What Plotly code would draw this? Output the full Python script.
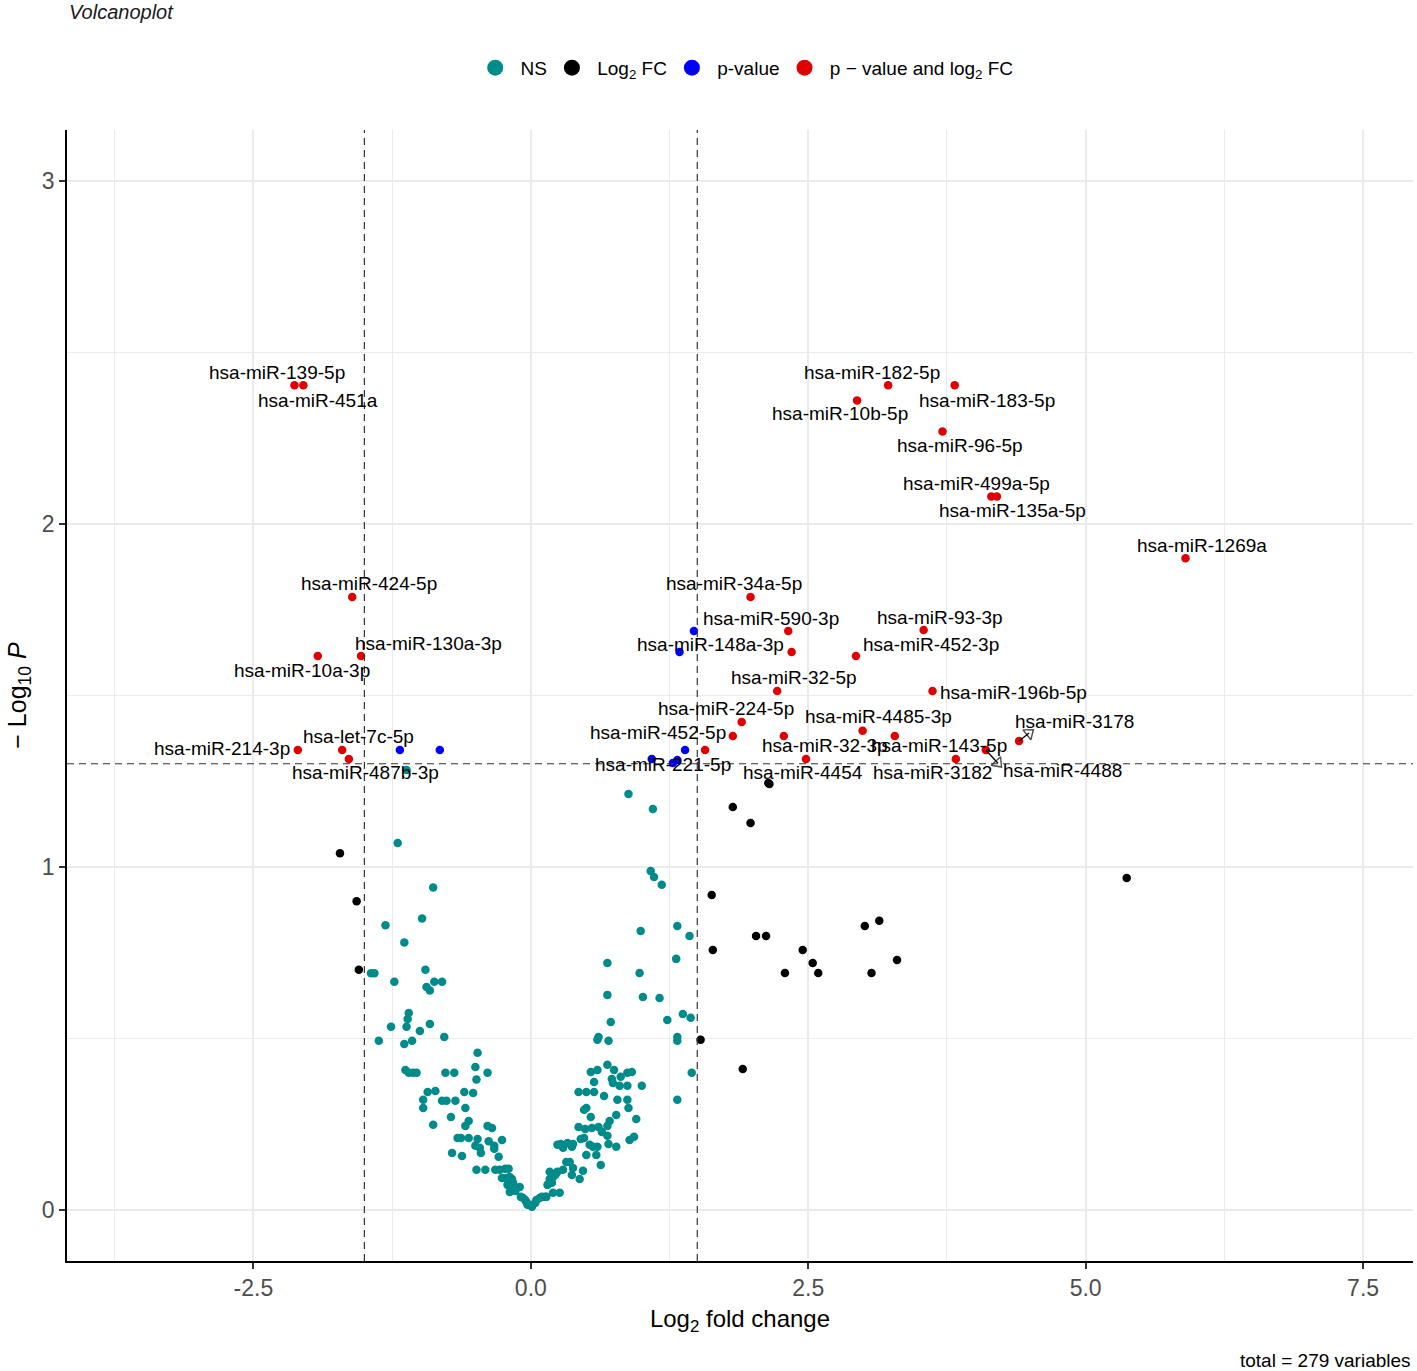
import plotly.graph_objects as go

# ---- data ----
# NS (grey-teal)
ns_x = [-1.12, -1.20, -0.88, -0.98, -1.31, -1.14, -1.44, -1.41, -0.95, -1.23,
        -0.94, -0.91, -0.87, -0.80, -1.10, -1.11, -1.12, -1.26, -1.00, -0.91,
        -1.37, -1.14, -1.07, -0.78, -0.48, -0.50, -0.39, -0.49, -1.13, -1.10,
        -1.06, -1.03, -0.77, -0.69, -0.93, -0.86, -0.60, -0.52, -0.97, -0.97,
        -0.80, -0.76, -0.68, -0.59, -0.88, -0.72, -0.59, -0.56, -0.39, -0.35,
        -0.66, -0.63, -0.56, -0.48, -0.38, -0.33, -0.33, -0.26, -0.50, -0.46,
        -0.45, -0.71, -0.62, -0.29, -0.49, -0.41, -0.32, -0.28, -0.23, -0.20,
        -0.26, -0.22, -0.17, -0.19, -0.16, -0.21, -0.16, -0.10, -0.19, -0.14,
        -0.13, -0.09, -0.05, -0.03, -0.07, -0.04, 0.01, -0.01,
        0.05, 0.08, 0.10, 0.13, 0.04, 0.14, 0.20, 0.26, 0.19, 0.15,
        0.17, 0.20, 0.22, 0.23, 0.17, 0.24, 0.29, 0.38, 0.47, 0.44,
        0.37, 0.32, 0.35, 0.63, 0.50, 0.59, 0.24, 0.27, 0.29, 0.33,
        0.37, 0.38, 0.53, 0.56, 0.60, 0.70, 0.77, 0.48, 0.45, 0.69,
        0.89, 0.93, 0.43, 0.49, 0.55, 0.61, 0.64, 0.71, 0.69, 0.95,
        0.77, 0.54, 0.48, 0.50, 0.88, 0.78, 0.87, 0.66, 0.43, 0.50,
        0.57, 0.80, 0.87, 1.00, 0.57, 0.73, 0.74, 0.81, 0.87, 0.91,
        0.54, 0.60, 0.69, 0.75, 1.45, 1.32, 0.60, 0.61, 0.70, 1.32,
        1.32, 0.72, 1.23, 1.44, 1.37, 0.69, 1.01, 1.16, 0.69, 0.98,
        1.31, 0.99, 1.32, 1.43, 1.08, 1.11, 1.18, 0.88, 1.10]
ns_y = [1.283, 1.07, 0.94, 0.85, 0.83, 0.78, 0.69, 0.69, 0.70, 0.665,
        0.65, 0.64, 0.665, 0.665, 0.574, 0.557, 0.534, 0.534, 0.522, 0.542,
        0.493, 0.484, 0.493, 0.504, 0.458, 0.417, 0.40, 0.38, 0.408, 0.40,
        0.40, 0.40, 0.40, 0.40, 0.344, 0.347, 0.344, 0.341, 0.321, 0.297,
        0.318, 0.318, 0.318, 0.297, 0.248, 0.271, 0.245, 0.259, 0.245, 0.239,
        0.21, 0.21, 0.21, 0.207, 0.20, 0.187, 0.178, 0.204, 0.187, 0.181,
        0.166, 0.166, 0.157, 0.155, 0.117, 0.117, 0.117, 0.117, 0.12, 0.12,
        0.093, 0.093, 0.09, 0.096, 0.079, 0.073, 0.067, 0.067, 0.052, 0.055,
        0.064, 0.038, 0.029, 0.015, 0.035, 0.023, 0.009, 0.015,
        0.029, 0.035, 0.038, 0.038, 0.02, 0.038, 0.05, 0.05, 0.079, 0.073,
        0.09, 0.096, 0.102, 0.108, 0.111, 0.111, 0.117, 0.122, 0.114, 0.09,
        0.102, 0.14, 0.14, 0.131, 0.16, 0.16, 0.19, 0.192, 0.181, 0.195,
        0.184, 0.192, 0.19, 0.184, 0.184, 0.192, 0.184, 0.21, 0.207, 0.216,
        0.204, 0.213, 0.242, 0.236, 0.239, 0.242, 0.227, 0.259, 0.245, 0.265,
        0.277, 0.271, 0.292, 0.297, 0.297, 0.321, 0.321, 0.332, 0.344, 0.344,
        0.344, 0.362, 0.362, 0.362, 0.373, 0.382, 0.37, 0.388, 0.40, 0.402,
        0.402, 0.408, 0.423, 0.408, 0.40, 0.321, 0.496, 0.504, 0.493, 0.504,
        0.493, 0.548, 0.554, 0.56, 0.571, 0.627, 0.621, 0.618, 0.72, 0.691,
        0.732, 0.813, 0.828, 0.799, 0.988, 0.971, 0.948, 1.213, 1.169]

# Log2 FC only (black)
fc_x = [-1.72, -1.57, -1.55, 2.14, 2.15, 1.82, 1.98, 1.63, 1.64, 2.03,
        2.12, 2.45, 2.54, 2.59, 2.29, 3.01, 3.14, 3.30, 3.07, 1.53,
        1.91, 5.37]
fc_y = [1.04, 0.90, 0.70, 1.245, 1.242, 1.175, 1.128, 0.918, 0.758, 0.799,
        0.799, 0.758, 0.72, 0.691, 0.691, 0.828, 0.843, 0.729, 0.691, 0.496,
        0.411, 0.968]

# p-value only (blue)
p_x = [-1.18, -0.82, 1.47, 1.34, 1.39, 1.09, 1.28, 1.32]
p_y = [1.341, 1.341, 1.688, 1.627, 1.341, 1.315, 1.303, 1.312]

# p-value and log2 FC (red), labelled
sig_labels = ["hsa-miR-139-5p", "hsa-miR-451a", "hsa-miR-182-5p", "hsa-miR-183-5p",
              "hsa-miR-10b-5p", "hsa-miR-96-5p", "hsa-miR-499a-5p", "hsa-miR-135a-5p",
              "hsa-miR-1269a", "hsa-miR-424-5p", "hsa-miR-34a-5p", "hsa-miR-590-3p",
              "hsa-miR-148a-3p", "hsa-miR-93-3p", "hsa-miR-452-3p", "hsa-miR-130a-3p",
              "hsa-miR-10a-3p", "hsa-miR-32-5p", "hsa-miR-196b-5p", "hsa-miR-224-5p",
              "hsa-miR-452-5p", "hsa-miR-4485-3p", "hsa-miR-32-3p", "hsa-miR-143-5p",
              "hsa-miR-3178", "hsa-miR-4454", "hsa-miR-3182", "hsa-miR-4488",
              "hsa-miR-221-5p", "hsa-miR-214-3p", "hsa-let-7c-5p", "hsa-miR-487b-3p"]
sig_x = [-2.13, -2.05, 3.22, 3.82, 2.94, 3.71, 4.15, 4.20,
         5.90, -1.61, 1.98, 2.32, 2.35, 3.54, 2.93, -1.53,
         -1.92, 2.22, 3.62, 1.90, 1.82, 2.99, 2.28, 3.28,
         4.40, 2.48, 3.83, 4.10, 1.57, -2.10, -1.70, -1.64]
sig_y = [2.405, 2.405, 2.405, 2.405, 2.36, 2.27, 2.08, 2.08,
         1.90, 1.787, 1.787, 1.688, 1.627, 1.691, 1.615, 1.615,
         1.615, 1.513, 1.513, 1.423, 1.382, 1.397, 1.382, 1.382,
         1.367, 1.315, 1.315, 1.341, 1.341, 1.341, 1.341, 1.315]

fc_cut = 1.5
p_cut = 1.30103
total = 279

# ---- styling ----
FONT = "Liberation Sans, Arial, Helvetica, sans-serif"
col_ns = "#008B8B"
col_fc = "#000000"
col_p = "#0000FF"
col_sig = "#E00000"
pt = 8.5

# label offsets in pixels (repel-style placement), arrows for two labels
label_shift = [(-17, 13), (15, -15), (-16, 13), (32, -15),
               (-17, -13), (17, -14), (-15, 13), (16, -14),
               (16, 13), (17, 14), (-17, 14), (-17, 13),
               (-81, 7), (16, 13), (75, 12), (67, 13),
               (-16, -14), (17, 14), (81, -1), (-16, 13),
               (-75, 3), (16, 14), (41, -10), (44, -10),
               (55, 20), (-3, -14), (-23, -14), (77, -20),
               (-42, -14), (-76, 2), (16, 14), (17, -14)]
arrow_px = {"hsa-miR-3178": (10, -8), "hsa-miR-4488": (12, 13)}
px_per_x = 111.0
px_per_y = 343.0

fig = go.Figure()

def pts(x, y, c):
    fig.add_trace(go.Scatter(x=x, y=y, mode="markers", showlegend=False,
                             marker=dict(color=c, size=pt, line=dict(width=0)),
                             hoverinfo="x+y"))

pts(ns_x, ns_y, col_ns)
pts(fc_x, fc_y, col_fc)
pts(p_x, p_y, col_p)
fig.add_trace(go.Scatter(x=sig_x, y=sig_y, mode="markers", showlegend=False,
                         text=sig_labels, hoverinfo="text+x+y",
                         marker=dict(color=col_sig, size=pt, line=dict(width=0))))

# legend entries
nb = "\u00a0"
for nm, c in [(nb + "NS", col_ns), (nb + "Log<sub>2</sub> FC", col_fc),
              (nb + "p-value", col_p), (nb + "p \u2212 value and log<sub>2</sub> FC", col_sig)]:
    fig.add_trace(go.Scatter(x=[None], y=[None], mode="markers", name=nm,
                             marker=dict(color=c, size=16)))

# connectors with open arrowheads
for lab, (dx, dy) in arrow_px.items():
    i = sig_labels.index(lab)
    x0, y0 = sig_x[i], sig_y[i]
    x1, y1 = x0 + dx / px_per_x, y0 - dy / px_per_y
    fig.add_trace(go.Scatter(x=[x0, x1], y=[y0, y1], mode="lines+markers",
                             showlegend=False, hoverinfo="skip",
                             line=dict(color="black", width=1.3),
                             marker=dict(symbol=["circle", "triangle-up-open"], size=[0, 11],
                                         angleref="previous", color="black",
                                         line=dict(width=1.4, color="black"))))

for lab, x, y, (sx, sy) in zip(sig_labels, sig_x, sig_y, label_shift):
    fig.add_annotation(x=x, y=y, text=lab, showarrow=False, xshift=sx, yshift=sy,
                       font=dict(size=19, color="black", family=FONT))

# cutoff lines
for xv in (-fc_cut, fc_cut):
    fig.add_shape(type="line", x0=xv, x1=xv, y0=0, y1=1, yref="paper",
                  line=dict(color="#333333", width=1.2, dash="7px,5px"))
fig.add_shape(type="line", x0=0, x1=1, xref="paper", y0=p_cut, y1=p_cut,
              line=dict(color="#333333", width=1.2, dash="7px,5px"))

fig.add_annotation(text="<i>Volcanoplot</i>", xref="paper", yref="paper",
                   x=0.0, y=1.104, xanchor="left", yanchor="middle", showarrow=False,
                   font=dict(size=20, color="#1a1a1a", family=FONT))
fig.add_annotation(text="total = %d variables" % total, xref="paper", yref="paper",
                   x=1.0, y=-0.0884, xanchor="right", yanchor="middle", showarrow=False,
                   font=dict(size=19, color="black", family=FONT))

axis_common = dict(showline=True, linecolor="black", linewidth=1.6,
                   ticks="outside", ticklen=6, tickwidth=1.6, tickcolor="#333333",
                   showgrid=True, gridcolor="#EBEBEB", gridwidth=2,
                   zeroline=False, mirror=False,
                   tickfont=dict(size=23, color="#4D4D4D", family=FONT))

fig.update_layout(
    width=1417, height=1371,
    margin=dict(l=67, r=4, t=130, b=110),
    paper_bgcolor="white", plot_bgcolor="white",
    font=dict(family=FONT, color="black"),
    showlegend=True,
    legend=dict(orientation="h", x=0.505, xanchor="center", y=1.055, yanchor="middle",
                font=dict(size=19, color="black", family=FONT),
                itemsizing="trace", bgcolor="rgba(0,0,0,0)"),
    xaxis=dict(range=[-4.18, 7.95], tickvals=[-2.5, 0, 2.5, 5, 7.5],
               ticktext=["-2.5", "0.0", "2.5", "5.0", "7.5"],
               minor=dict(tickvals=[-3.75, -1.25, 1.25, 3.75, 6.25], showgrid=True,
                          gridcolor="#EBEBEB", gridwidth=1, ticks=""),
               title=dict(text="Log<sub>2</sub> fold change", standoff=10,
                          font=dict(size=24, color="black", family=FONT)),
               **axis_common),
    yaxis=dict(range=[-0.149, 3.149], tickvals=[0, 1, 2, 3],
               minor=dict(tickvals=[0.5, 1.5, 2.5], showgrid=True,
                          gridcolor="#EBEBEB", gridwidth=1, ticks=""),
               title=dict(text="\u2212 Log<sub>10</sub> <i>P</i>", standoff=8,
                          font=dict(size=25, color="black", family=FONT)),
               **axis_common),
)

# the page has a default 8px body margin; drop it so the figure sits at the window origin
fig.write_html("out.html", config={"displayModeBar": False},
               post_script="document.body.style.margin='0';document.body.style.overflow='hidden';")
